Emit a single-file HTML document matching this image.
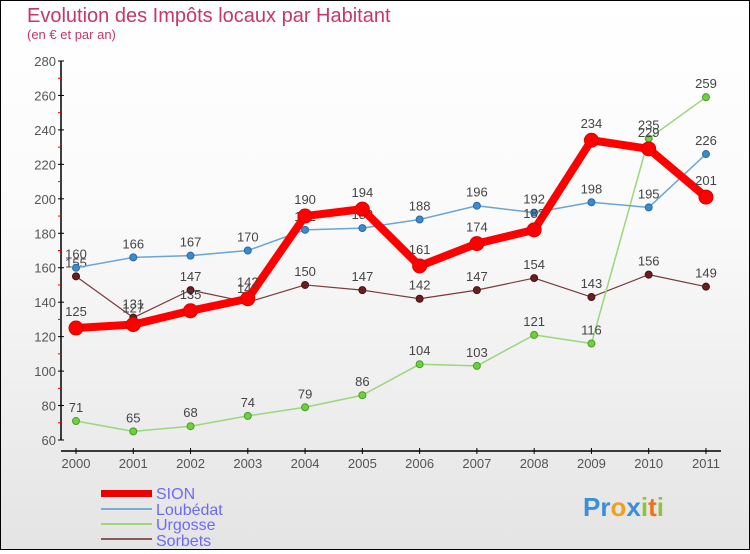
<!DOCTYPE html>
<html><head><meta charset="utf-8"><style>
body{margin:0}
#c{width:748px;height:548px;border:1px solid #000;background:linear-gradient(#fff,#fafafa 40%,#e4e4e4);position:relative;font-family:"Liberation Sans",sans-serif}
</style></head><body>
<div id="c">
<svg id="s" width="748" height="548" xmlns="http://www.w3.org/2000/svg" font-family="Liberation Sans, sans-serif">
<text x="26" y="21" font-size="20" fill="#c8356a">Evolution des Impôts locaux par Habitant</text>
<text x="26" y="38" font-size="13" fill="#c8356a">(en € et par an)</text>
<g id="axes"></g><g id="series"></g>
<g font-size="16" fill="#6b6bf5">
<rect x="100" y="489" width="51" height="7" fill="#e00"/>
<text x="155" y="498">SION</text>
<rect x="100" y="507" width="51" height="2" fill="#7aaed0"/>
<text x="155" y="514">Loubédat</text>
<rect x="100" y="522" width="51" height="2" fill="#9ad77a"/>
<text x="155" y="529">Urgosse</text>
<rect x="100" y="537" width="51" height="2" fill="#8a5a5a"/>
<text x="155" y="545">Sorbets</text>
</g>
<text x="582" y="515" font-size="26" font-weight="bold"><tspan fill="#3a8fd8">Pr</tspan><tspan fill="#f0a020">o</tspan><tspan fill="#3a8fd8">x</tspan><tspan fill="#8cc43c">i</tspan><tspan fill="#f07020">t</tspan><tspan fill="#8cc43c">i</tspan></text>
</svg>
</div>
<script>
const years=["2000","2001","2002","2003","2004","2005","2006","2007","2008","2009","2010","2011"];
const yTicks=[60,80,100,120,140,160,180,200,220,240,260,280];
const sion=[125,127,135,142,190,194,161,174,182,234,229,201];
const loubedat=[160,166,167,170,182,183,188,196,192,198,195,226];
const urgosse=[71,65,68,74,79,86,104,103,121,116,235,259];
const sorbets=[155,131,147,140,150,147,142,147,154,143,156,149];
const NS="http://www.w3.org/2000/svg";
const X=i=>75+i*57.27;
const Y=v=>439-(v-60)*(379/220);
function mk(t,a,p){const e=document.createElementNS(NS,t);for(const k in a)e.setAttribute(k,a[k]);p.appendChild(e);return e;}
const ax=document.getElementById('axes');
mk('line',{x1:60,y1:60,x2:60,y2:439,stroke:'#000','stroke-width':1.5},ax);
mk('line',{x1:60,y1:450,x2:720,y2:450,stroke:'#000','stroke-width':1.5},ax);
yTicks.forEach((v,i)=>{
 const l=mk('line',{x1:57,x2:63,y1:Y(v),y2:Y(v),stroke:'#000'},ax);
 
 
 const t=mk('text',{x:55,y:Y(v)+5,'text-anchor':'end','font-size':13,fill:'#555'},ax);t.textContent=v;
 
 
 if(i<yTicks.length-1){const m=mk('line',{x1:57,x2:60,y1:Y(v+10),y2:Y(v+10),stroke:'#e00'},ax);
 
 }
});
years.forEach((y,i)=>{
 mk('line',{x1:X(i),x2:X(i),y1:447,y2:453,stroke:'#000'},ax);
 const t=mk('text',{x:X(i),y:467,'text-anchor':'middle','font-size':13,fill:'#555'},ax);t.textContent=y;
 
 
});
const sg=document.getElementById('series');
function draw(data,name,color,w,r,dot,stroke){
 const g=mk('g',{},sg);
 
 
 const pl=mk('polyline',{points:data.map((v,i)=>X(i)+','+Y(v)).join(' '),fill:'none',stroke:color,'stroke-width':w,'stroke-linejoin':'round'},g);
 
 
 data.forEach((v,i)=>{
  const c=mk('circle',{cx:X(i),cy:Y(v),r:r,fill:dot,stroke:stroke,'stroke-width':1},g);
  
  
  const t=mk('text',{x:X(i),y:Y(v)-9-(r>5?3:0),'text-anchor':'middle','font-size':13,fill:'#444'},g);t.textContent=v;
  
  
 });
}
draw(sorbets,'sorbets','#7a3a3a',1.2,3.5,'#6a1f1f','#4a1010');
draw(urgosse,'urgosse','#9ad77a',1.5,3.5,'#6cd23c','#4a9a2a');
draw(loubedat,'loubedat','#6aa5d5',1.5,3.5,'#3a8ad0','#2a6aa0');
draw(sion,'sion','#f00',8,7,'#f00','#d00');
</script>
</body></html>
